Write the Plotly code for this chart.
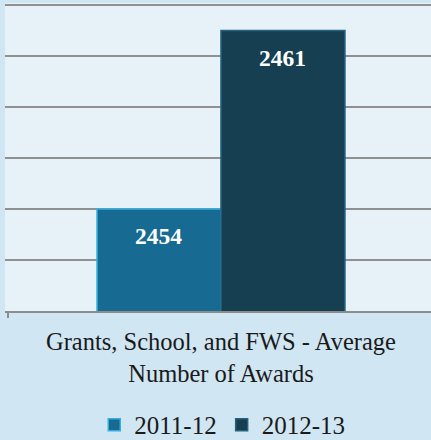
import plotly.graph_objects as go

categories = ["Grants, School, and FWS - Average<br>Number of Awards"]
series_names = ["2011-12", "2012-13"]
values_2011 = [2454]
values_2012 = [2461]
y_ticks = [2450, 2452, 2454, 2456, 2458, 2460, 2462]

fill_colors = ["#176b93", "#163f52"]
edge_colors = ["#36aee0", "#24627e"]

SERIF = "Liberation Serif"

fig = go.Figure()
for name, vals, fc, ec in zip(series_names, [values_2011, values_2012], fill_colors, edge_colors):
    fig.add_trace(go.Bar(
        x=categories, y=vals, name=name,
        marker=dict(color=fc, line=dict(color=ec, width=1.5)),
        hoverinfo="skip",
    ))

shifts = [-62, 62]
for vals, xs in zip([values_2011, values_2012], shifts):
    for c, v in zip(categories, vals):
        fig.add_annotation(x=c, y=v, xref="x", yref="y", text="<b>%d</b>" % v,
                           showarrow=False, xshift=xs, yshift=-27,
                           font=dict(family=SERIF, size=23.5, color="white"))

fig.add_annotation(x=0.508, y=0.1899, xref="paper", yref="paper", yanchor="middle",
                   text=categories[0], showarrow=False, align="center",
                   font=dict(family=SERIF, size=24.5, color="#1a1a1a"))

fig.update_layout(
    width=431, height=440,
    margin=dict(l=5, r=0, t=3, b=0, autoexpand=False),
    paper_bgcolor="#d0e6f3",
    plot_bgcolor="#e6f1f8",
    barmode="group",
    bargap=0.418,
    bargroupgap=0,
    showlegend=True,
    legend=dict(orientation="h", x=0.51, xanchor="center", y=0.0341, yanchor="middle",
                yref="container",
                font=dict(family=SERIF, size=25, color="#1a1a1a"),
                bgcolor="rgba(0,0,0,0)", traceorder="normal"),
    xaxis=dict(showticklabels=False, ticks="outside", tickson="boundaries", ticklen=5,
               tickcolor="#8c8c8c", tickwidth=2, showline=True, linecolor="#8c8c8c",
               linewidth=2, range=[-0.507, 0.493], showgrid=False),
    yaxis=dict(range=[2450, 2462.08], tickvals=y_ticks, showticklabels=False,
               domain=[0.29519, 1],
               showgrid=True, gridcolor="#909090", gridwidth=2, zeroline=False),
)

fig.write_html("out.html", config={"displayModeBar": False},
               post_script="document.body.style.margin='0px';document.body.style.overflow='hidden';")
